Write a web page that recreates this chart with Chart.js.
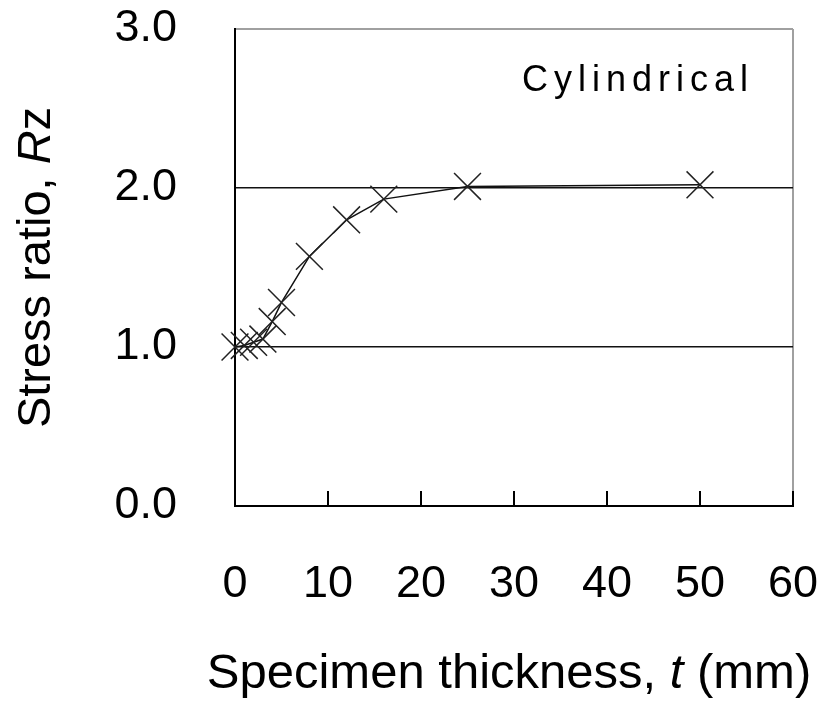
<!DOCTYPE html>
<html>
<head>
<meta charset="utf-8">
<script src="https://cdn.jsdelivr.net/npm/chart.js@4"></script>
<style>
  html, body { margin: 0; padding: 0; background: #fff; }
  #grafico { width: 822px; height: 708px; }
</style>
</head>
<body>
<div id="grafico"><canvas id="rz_espessura"></canvas></div>
<script>
// thickness (mm) and stress ratio Rz, cylindrical specimens
var espessura = [0, 1, 2, 3, 4, 5, 8, 12, 16, 25, 50];
var razao = [1.00, 1.01, 1.03, 1.05, 1.16, 1.28, 1.57, 1.80, 1.93, 2.01, 2.02];
var ticksX = [0, 10, 20, 30, 40, 50, 60];
var ticksY = [0, 1, 2, 3];
var tituloX = [['Specimen thickness, ', false], ['t', true], [' (mm)', false]];
var tituloY = [['Stress ratio, ', false], ['R', true], ['z', false]];
var rotulo = 'Cylindrical';

var FONTE = "'Liberation Sans', Arial, sans-serif";

// draws a title made of plain and italic pieces, centred on (cx, cy)
function desenharPartes(ctx, partes, tamanho, cx, cy, rot) {
    ctx.save();
    ctx.translate(cx, cy);
    ctx.rotate(rot);
    ctx.textAlign = 'left';
    ctx.textBaseline = 'middle';
    var total = 0;
    partes.forEach(function (p) {
        ctx.font = (p[1] ? 'italic ' : '') + tamanho + 'px ' + FONTE;
        total += ctx.measureText(p[0]).width;
    });
    var x = -total / 2;
    partes.forEach(function (p) {
        ctx.font = (p[1] ? 'italic ' : '') + tamanho + 'px ' + FONTE;
        ctx.fillText(p[0], x, 0);
        x += ctx.measureText(p[0]).width;
    });
    ctx.restore();
}

const titulos = {
    id: 'titulos',
    afterDraw(chart) {
        const ctx = chart.ctx;
        const area = chart.chartArea;
        ctx.save();
        ctx.fillStyle = '#000';
        desenharPartes(ctx, tituloX, 49, (area.left + area.right) / 2 - 5, chart.height - 34, 0);
        desenharPartes(ctx, tituloY, 47, 37, (area.top + area.bottom) / 2, -Math.PI / 2);
        ctx.font = '36px ' + FONTE;
        ctx.letterSpacing = '6px';
        ctx.textAlign = 'right';
        ctx.textBaseline = 'middle';
        ctx.fillText(rotulo, area.right - 39, chart.scales.y.getPixelForValue(2.67));
        ctx.restore();
    }
};

function criarGrafico() {
    const pontos = espessura.map(function (t, i) { return { x: t, y: razao[i] }; });

    const config = {
        type: 'line',
        data: {
            datasets: [{
                label: 'Rz',
                data: pontos,
                borderColor: '#111',
                borderWidth: 1.5,
                tension: 0,
                fill: false,
                pointStyle: 'crossRot',
                pointRadius: 19,
                pointBorderColor: '#222',
                pointBorderWidth: 1.5,
                clip: false
            }]
        },
        options: {
            responsive: true,
            maintainAspectRatio: false,
            animation: false,
            layout: { padding: { left: 0, right: 29, top: 29, bottom: 0 } },
            plugins: {
                legend: { display: false },
                tooltip: { enabled: false }
            },
            scales: {
                x: {
                    type: 'linear',
                    min: 0,
                    max: 60,
                    afterBuildTicks: function (scale) {
                        scale.ticks = ticksX.map(function (v) { return { value: v }; });
                    },
                    afterFit: function (scale) {
                        scale.height = 202;
                        scale.paddingLeft = 0;
                        scale.paddingRight = 0;
                    },
                    border: { color: '#000', width: 2 },
                    grid: {
                        drawOnChartArea: true,
                        color: function (c) { return c.tick && c.tick.value === 60 ? '#a0a0a0' : 'rgba(0,0,0,0)'; },
                        lineWidth: 2,
                        tickColor: '#000',
                        tickWidth: 2,
                        tickLength: -15
                    },
                    ticks: {
                        color: '#000',
                        padding: 67,
                        maxRotation: 0,
                        font: { family: FONTE, size: 45 }
                    }
                },
                y: {
                    type: 'linear',
                    min: 0,
                    max: 3,
                    afterBuildTicks: function (scale) {
                        scale.ticks = ticksY.map(function (v) { return { value: v }; });
                    },
                    afterFit: function (scale) {
                        scale.width = 235;
                        scale.paddingTop = 0;
                        scale.paddingBottom = 0;
                    },
                    border: { color: '#000', width: 2 },
                    grid: {
                        drawTicks: false,
                        color: function (c) { return c.tick && c.tick.value === 3 ? '#a0a0a0' : '#111'; },
                        lineWidth: function (c) { return c.tick && c.tick.value === 3 ? 2 : 1.5; }
                    },
                    ticks: {
                        color: '#000',
                        padding: 58,
                        font: { family: FONTE, size: 45 },
                        callback: function (v) { return v.toFixed(1); }
                    }
                }
            }
        },
        plugins: [titulos]
    };

    new Chart(document.getElementById('rz_espessura'), config);
}

criarGrafico();
</script>
</body>
</html>
